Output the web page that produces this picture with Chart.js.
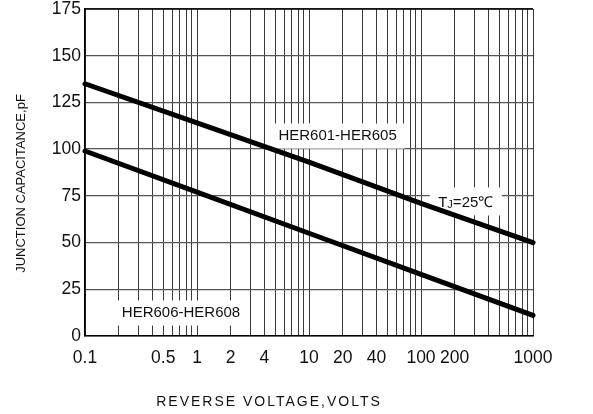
<!DOCTYPE html>
<html>
<head>
<meta charset="utf-8">
<script src="https://cdn.jsdelivr.net/npm/chart.js@4/dist/chart.umd.min.js"></script>
<style>
  html, body { margin: 0; padding: 0; background: #fff; }
  #wrap { width: 593px; height: 414px; position: relative; }
</style>
</head>
<body>
<div id="wrap"><canvas id="c" width="593" height="414"></canvas></div>
<script>
// ---- data ----
const voltages = [0.1, 1, 10, 100, 1000];
const her601_605 = [135, 114, 93, 71, 50];
const her606_608 = [99, 77, 55, 33, 11];
const seriesNames = ['HER601-HER605', 'HER606-HER608'];
const xTickValues = [0.1, 0.5, 1, 2, 4, 10, 20, 40, 100, 200, 1000];
const xTickLabels = ['0.1', '0.5', '1', '2', '4', '10', '20', '40', '100', '200', '1000'];
const yTickValues = [0, 25, 50, 75, 100, 125, 150, 175];
const xTitle = 'REVERSE VOLTAGE,VOLTS';
const yTitle = 'JUNCTION CAPACITANCE,pF';
const tempNote = ['T', 'J', '=25\u2103'];

const FONT = '"Liberation Sans", Arial, sans-serif';

function pts(xs, ys) { return xs.map((x, i) => ({ x: x, y: ys[i] })); }

// labels placed on the plot (data coordinates)
const notes = [
  { text: seriesNames[0], x: 18, y: 107, w: 134, h: 25 },
  { text: seriesNames[1], x: 0.72, y: 12.3, w: 130, h: 25 },
];
const tempPos = { x: 251, y: 72, w: 72, h: 28 };

const annotPlugin = {
  id: 'annot',
  beforeDatasetsDraw(chart) {
    const ctx = chart.ctx;
    const xs = chart.scales.x, ys = chart.scales.y;
    const a = chart.chartArea;
    ctx.save();
    // top frame line
    ctx.strokeStyle = '#000';
    ctx.lineWidth = 1.5;
    ctx.beginPath();
    ctx.moveTo(a.left, a.top);
    ctx.lineTo(a.right, a.top);
    ctx.stroke();
    notes.forEach(n => {
      const cx = xs.getPixelForValue(n.x), cy = ys.getPixelForValue(n.y);
      ctx.fillStyle = '#fff';
      ctx.fillRect(cx - n.w / 2, cy - n.h / 2, n.w, n.h);
      ctx.fillStyle = '#111';
      ctx.font = '15px ' + FONT;
      ctx.textAlign = 'center';
      ctx.textBaseline = 'middle';
      ctx.fillText(n.text, cx, cy);
    });
    // TJ=25C
    const cx = xs.getPixelForValue(tempPos.x), cy = ys.getPixelForValue(tempPos.y);
    ctx.fillStyle = '#fff';
    ctx.fillRect(cx - tempPos.w / 2, cy - tempPos.h / 2, tempPos.w, tempPos.h);
    ctx.fillStyle = '#111';
    ctx.textBaseline = 'alphabetic';
    ctx.textAlign = 'left';
    ctx.font = '15px ' + FONT;
    const wT = ctx.measureText(tempNote[0]).width;
    const wR = ctx.measureText(tempNote[2]).width;
    ctx.font = '11px ' + FONT;
    const wJ = ctx.measureText(tempNote[1]).width;
    let x0 = cx - (wT + wJ + wR) / 2;
    const base = cy + 5.5;
    ctx.font = '15px ' + FONT;
    ctx.fillText(tempNote[0], x0, base);
    ctx.font = '11px ' + FONT;
    ctx.fillText(tempNote[1], x0 + wT, base + 1);
    ctx.font = '15px ' + FONT;
    ctx.fillText(tempNote[2], x0 + wT + wJ, base);
    ctx.restore();
  },
  afterDraw(chart) {
    const ctx = chart.ctx;
    ctx.save();
    ctx.fillStyle = '#111';
    // x title
    ctx.font = '14px ' + FONT;
    ctx.textAlign = 'center';
    ctx.textBaseline = 'middle';
    if ('letterSpacing' in ctx) ctx.letterSpacing = '2px';
    ctx.fillText(xTitle, 269, 402);
    if ('letterSpacing' in ctx) ctx.letterSpacing = '0px';
    // y title
    ctx.translate(21.5, 183.5);
    ctx.rotate(-Math.PI / 2);
    ctx.font = '13px ' + FONT;
    ctx.fillText(yTitle, 0, 0);
    ctx.restore();
  }
};

new Chart(document.getElementById('c'), {
  type: 'line',
  data: {
    datasets: [
      { label: seriesNames[0], data: pts(voltages, her601_605) },
      { label: seriesNames[1], data: pts(voltages, her606_608) },
    ].map(d => Object.assign(d, {
      borderColor: '#000', borderWidth: 5, borderCapStyle: 'round',
      pointRadius: 0, tension: 0, fill: false, clip: false
    }))
  },
  options: {
    responsive: false,
    animation: false,
    events: [],
    layout: { padding: { top: 9, right: 60, left: 0, bottom: 0 } },
    plugins: { legend: { display: false }, tooltip: { enabled: false }, title: { display: false } },
    scales: {
      x: {
        type: 'logarithmic',
        min: 0.1, max: 1000,
        afterFit(s) { s.height = 78; s.paddingLeft = 0; s.paddingRight = 0; },
        afterBuildTicks(s) {
          const t = [];
          for (let e = -1; e < 3; e++) for (let m = 1; m < 10; m++) t.push({ value: +(m * Math.pow(10, e)).toPrecision(3) });
          t.push({ value: 1000 });
          s.ticks = t;
        },
        ticks: {
          autoSkip: false, maxRotation: 0, minRotation: 0, padding: 12,
          color: '#111', font: { family: FONT, size: 17.5 },
          callback(v) {
            const i = xTickValues.findIndex(a => Math.abs(a - v) < 1e-9 * Math.max(1, v));
            return i >= 0 ? xTickLabels[i] : '';
          }
        },
        grid: { color: '#3a3a3a', lineWidth: 1, drawTicks: false },
        border: { color: '#000', width: 1.5 }
      },
      y: {
        min: 0, max: 175,
        afterFit(s) { s.width = 85; s.paddingTop = 0; s.paddingBottom = 0; },
        afterBuildTicks(s) { s.ticks = yTickValues.map(v => ({ value: v })); },
        ticks: { padding: 4, color: '#111', font: { family: FONT, size: 17.5 } },
        grid: { color: '#555', lineWidth: 1.3, drawTicks: false },
        border: { color: '#000', width: 1.5 }
      }
    }
  },
  plugins: [annotPlugin]
});
</script>
</body>
</html>
